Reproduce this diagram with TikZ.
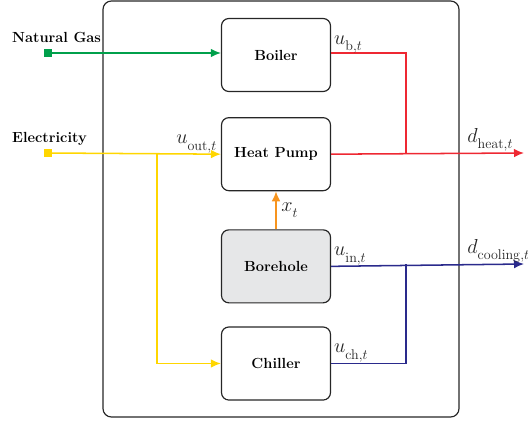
\documentclass[tikz,border=0pt]{standalone}
\usepackage{amsmath}
\usetikzlibrary{arrows.meta,positioning,calc}
\definecolor{gasgreen}{RGB}{0,160,75}
\definecolor{elecyellow}{RGB}{255,214,0}
\definecolor{heatred}{RGB}{238,40,50}
\definecolor{coolblue}{RGB}{42,42,140}
\definecolor{geoorange}{RGB}{247,148,30}
\definecolor{holegray}{RGB}{230,231,232}
\newcommand{\flowvar}[2]{#1_{\lower3pt\hbox{$\scriptstyle #2$}}}
\tikzset{
  unit/.style={
    draw=black!85,
    rounded corners=2.2mm,
    line width=1pt,
    align=center,
    minimum width=3.27cm,
    minimum height=2.19cm,
    font=\fontsize{12.5}{14}\selectfont\bfseries
  },
  src/.style={inner sep=0pt, minimum size=0.24cm},
  lbl/.style={font=\fontsize{12.5}{14}\selectfont\bfseries, inner sep=0pt},
  var/.style={font=\fontsize{17}{20}\selectfont, text=black!85, inner sep=1pt},
  flow/.style={line width=1.3pt},
  line/.style={flow, -{Latex[length=3mm,width=2.6mm]}}
}

\begin{document}
\begin{tikzpicture}[node distance=5mm]
        \useasboundingbox (0,0) rectangle (15.84,-12.72);
        \draw[line width=1pt, draw=black!85, rounded corners=2.5mm] (3.09,-0.03) rectangle (13.77,-12.51);
        % units
        \node[unit] (boiler) at (8.28,-1.65) {Boiler};
        \node[unit, below=0.75cm of boiler] (hp) {Heat Pump};
        \node[unit, fill=holegray, below=1.14cm of hp] (hole) {Borehole};
        \node[unit, below=0.69cm of hole] (chiller) {Chiller};
        % inputs
        \node[src, fill=gasgreen] (gas) at (1.44,-1.59) {};
        \node[src, fill=elecyellow] (elec) at (1.44,-4.59) {};
        \node[lbl, anchor=base west] (gaslbl) at (0.36,-1.28) {Natural Gas};
        \node[lbl, anchor=base west] (eleclbl) at (0.36,-4.28) {Electricity};
        \coordinate (elecsplit) at (4.71,-4.59);
        \coordinate (heatjoin) at (12.18,-4.59);
        \coordinate (heatout) at (15.72,-4.59);
        \coordinate (cooljoin) at (12.18,-7.92);
        \coordinate (coolout) at (15.72,-7.92);
        % flows
        \draw[line, gasgreen] (gas) -- (gas -| boiler.west);
        \draw[line, elecyellow] (elec) -- (hp.west);
        \draw[line, elecyellow] (elecsplit) |- (chiller.west);
        \draw[flow, heatred] (boiler.east |- gas) -| (heatjoin);
        \draw[line, heatred] (hp.east) -- (heatout);
        \draw[line, coolblue] (hole.east) -- (coolout);
        \draw[flow, coolblue] (chiller.east) -| (cooljoin);
        \draw[line, geoorange] (hole.north) -- (hp.south) node[var, midway, right=0.1cm] {$\flowvar{x}{t}$};
        % labels
        \node[var, anchor=south west] (ub) at ($(boiler.east)+(0.05,0)$) {$\flowvar{u}{\mathrm{b},t}$};
        \node[var, anchor=south east] (uout) at ($(hp.west)+(-0.08,0)$) {$\flowvar{u}{\mathrm{out},t}$};
        \node[var, anchor=south west] (uin) at ($(hole.east)+(0.05,0)$) {$\flowvar{u}{\mathrm{in},t}$};
        \node[var, anchor=south west] (uch) at ($(chiller.east)+(0.05,0)$) {$\flowvar{u}{\mathrm{ch},t}$};
        \node[var, anchor=south west] (dheat) at ($(heatjoin)+(1.8,0)$) {$\flowvar{d}{\mathrm{heat},t}$};
        \node[var, anchor=south west] (dcool) at ($(cooljoin)+(1.8,0)$) {$\flowvar{d}{\mathrm{cooling},t}$};
      \end{tikzpicture}
\end{document}
